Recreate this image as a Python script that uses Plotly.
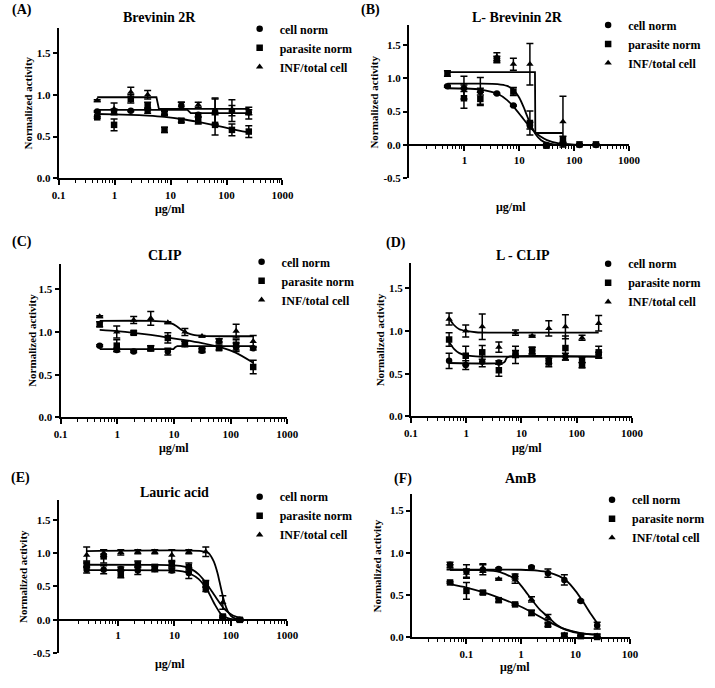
import plotly.graph_objects as go

FONT = "Liberation Serif, Times New Roman, serif"
W, H = 715, 688

# concentrations (ug/ml)
conc_pep = [0.49, 0.98, 1.95, 3.9, 7.8, 15.6, 31.25, 62.5, 125, 250]
conc_lauric = [0.28, 0.56, 1.125, 2.25, 4.5, 9, 18, 36, 72, 144]
conc_amb = [0.05, 0.1, 0.2, 0.39, 0.78, 1.56, 3.125, 6.25, 12.5, 25]

series_names = ["cell norm", "parasite norm", "INF/total cell"]
panel_titles = ["Brevinin 2R", "L- Brevinin 2R", "CLIP", "L - CLIP", "Lauric acid", "AmB"]
panel_labels = ["(A)", "(B)", "(C)", "(D)", "(E)", "(F)"]

# (A) Brevinin 2R
cell_a = [0.80, 0.80, 0.81, 0.81, 0.78, 0.87, 0.76, 0.80, 0.81, 0.79]
cell_a_err = [0.01, 0.03, 0.01, 0.03, 0.03, 0.04, 0.02, 0.15, 0.06, 0.03]
para_a = [0.73, 0.64, 0.95, 0.87, 0.58, 0.69, 0.69, 0.64, 0.58, 0.56]
para_a_err = [0.01, 0.07, 0.05, 0.04, 0.03, 0.02, 0.04, 0.12, 0.07, 0.07]
inf_a = [0.93, 0.83, 1.03, 1.00, 0.78, 0.87, 0.88, 0.80, 0.81, 0.78]
inf_a_err = [0.01, 0.07, 0.06, 0.05, 0.02, 0.04, 0.03, 0.16, 0.13, 0.07]
fit_a_cell_x = [0.49, 20, 23, 250]
fit_a_cell_y = [0.82, 0.82, 0.78, 0.78]
fit_a_para_x = conc_pep
fit_a_para_y = [0.77, 0.765, 0.76, 0.75, 0.735, 0.71, 0.675, 0.635, 0.59, 0.55]
fit_a_inf_x = [0.49, 5.6, 6.2, 250]
fit_a_inf_y = [0.97, 0.97, 0.83, 0.83]

# (B) L- Brevinin 2R
cell_b = [0.88, 0.85, 0.80, 0.77, 0.59, 0.29, 0.00, 0.02, 0.00, 0.00]
cell_b_err = [0.01, 0.05, 0.05, 0.01, 0.01, 0.05, 0.02, 0.02, 0.01, 0.01]
para_b = [1.07, 0.70, 0.69, 1.28, 0.80, 0.33, -0.01, 0.08, 0.01, 0.01]
para_b_err = [0.04, 0.15, 0.10, 0.05, 0.06, 0.18, 0.02, 0.05, 0.01, 0.01]
inf_b_conc = [0.49, 0.98, 1.95, 3.9, 7.8, 15.6, 31.25, 62.5]
inf_b = [0.88, 0.86, 0.81, 1.32, 1.21, 1.21, 0.00, 0.35]
inf_b_err = [0.01, 0.17, 0.20, 0.06, 0.09, 0.31, 0.01, 0.38]
fit_b_cell_x = [0.49, 1, 2, 4, 6, 8, 11, 14, 18, 24, 32, 50, 100, 250]
fit_b_cell_y = [0.85, 0.846, 0.83, 0.767, 0.673, 0.568, 0.425, 0.315, 0.215, 0.13, 0.074, 0.029, 0.007, 0.001]
fit_b_para_x = [0.49, 2, 4, 6, 8, 10, 12, 14, 16, 20, 25, 32, 50, 100, 250]
fit_b_para_y = [0.92, 0.92, 0.913, 0.885, 0.819, 0.707, 0.566, 0.427, 0.309, 0.158, 0.072, 0.028, 0.005, 0.0, 0.0]
fit_b_inf_x = [0.49, 19.3, 19.6, 62.5]
fit_b_inf_y = [1.09, 1.09, 0.18, 0.18]

# (C) CLIP
cell_c = [0.84, 0.79, 0.77, 0.81, 0.77, 0.86, 0.78, 0.89, 0.82, 0.81]
cell_c_err = [0.01, 0.02, 0.01, 0.03, 0.04, 0.03, 0.02, 0.03, 0.05, 0.02]
para_c = [1.09, 0.84, 0.99, 0.81, 0.93, 0.86, 0.79, 0.81, 0.85, 0.59]
para_c_err = [0.03, 0.07, 0.02, 0.03, 0.06, 0.03, 0.02, 0.02, 0.06, 0.08]
inf_c = [1.18, 1.00, 1.14, 1.16, 1.11, 1.00, 0.95, 0.90, 1.01, 0.89]
inf_c_err = [0.01, 0.07, 0.04, 0.08, 0.01, 0.04, 0.01, 0.02, 0.08, 0.07]
fit_c_cell_x = [0.49, 9.8, 10.5, 11.5, 250]
fit_c_cell_y = [0.80, 0.80, 0.82, 0.835, 0.835]
fit_c_para_x = conc_pep
fit_c_para_y = [1.025, 1.01, 0.99, 0.965, 0.935, 0.905, 0.87, 0.825, 0.755, 0.64]
fit_c_inf_x = [0.49, 4, 7, 9, 11, 14, 17, 22, 32, 64, 250]
fit_c_inf_y = [1.13, 1.13, 1.12, 1.10, 1.07, 1.02, 0.99, 0.965, 0.955, 0.95, 0.95]

# (D) L - CLIP
cell_d = [0.65, 0.60, 0.64, 0.63, 0.72, 0.77, 0.66, 0.70, 0.66, 0.72]
cell_d_err = [0.09, 0.05, 0.06, 0.02, 0.10, 0.04, 0.04, 0.04, 0.03, 0.03]
para_d = [0.90, 0.71, 0.75, 0.54, 0.73, 0.77, 0.63, 0.80, 0.60, 0.75]
para_d_err = [0.08, 0.11, 0.08, 0.07, 0.04, 0.04, 0.05, 0.14, 0.03, 0.07]
inf_d = [1.14, 1.00, 1.05, 0.81, 0.98, 0.94, 1.03, 1.05, 0.92, 1.09]
inf_d_err = [0.07, 0.07, 0.15, 0.06, 0.03, 0.01, 0.09, 0.14, 0.03, 0.09]
fit_d_cell_x = [0.49, 4.6, 5.0, 5.4, 6.0, 250]
fit_d_cell_y = [0.625, 0.625, 0.64, 0.685, 0.70, 0.70]
fit_d_para_x = [0.49, 0.6, 0.75, 1.0, 1.5, 2.5, 250]
fit_d_para_y = [0.87, 0.79, 0.74, 0.715, 0.703, 0.70, 0.70]
fit_d_inf_x = [0.49, 0.6, 0.75, 1.0, 1.5, 2.5, 250]
fit_d_inf_y = [1.15, 1.07, 1.02, 1.0, 0.985, 0.98, 0.98]

# (E) Lauric acid
cell_e = [0.75, 0.75, 0.76, 0.74, 0.76, 0.74, 0.70, 0.455, 0.04, 0.0]
cell_e_err = [0.05, 0.06, 0.03, 0.06, 0.04, 0.03, 0.08, 0.03, 0.01, 0.02]
para_e = [0.83, 0.95, 0.69, 0.83, 0.79, 0.83, 0.79, 0.54, 0.05, 0.0]
para_e_err = [0.05, 0.10, 0.06, 0.05, 0.04, 0.04, 0.06, 0.05, 0.02, 0.02]
inf_e = [0.97, 1.00, 1.01, 1.02, 1.02, 0.97, 1.02, 1.02, 0.26, 0.0]
inf_e_err = [0.12, 0.05, 0.04, 0.03, 0.03, 0.08, 0.03, 0.07, 0.10, 0.02]
fit_e_cell_x = [0.28, 10, 14, 19, 27, 38, 52, 67, 88, 114, 144]
fit_e_cell_y = [0.745, 0.74, 0.725, 0.69, 0.61, 0.45, 0.23, 0.085, 0.025, 0.005, 0.0]
fit_e_para_x = [0.28, 5, 10, 15, 20, 27, 38, 52, 77, 107, 144]
fit_e_para_y = [0.825, 0.823, 0.815, 0.795, 0.76, 0.68, 0.53, 0.36, 0.16, 0.07, 0.03]
fit_e_inf_x = [0.28, 30, 40, 50, 58, 63, 70, 77, 88, 100, 115, 130, 144]
fit_e_inf_y = [1.03, 1.03, 1.0, 0.87, 0.70, 0.57, 0.40, 0.26, 0.13, 0.06, 0.026, 0.012, 0.006]

# (F) AmB
cell_f = [0.86, 0.78, 0.80, 0.81, 0.72, 0.83, 0.76, 0.68, 0.43, 0.14]
cell_f_err = [0.03, 0.08, 0.06, 0.01, 0.03, 0.01, 0.05, 0.06, 0.01, 0.04]
para_f = [0.65, 0.55, 0.53, 0.44, 0.39, 0.29, 0.15, 0.02, 0.015, 0.005]
para_f_err = [0.01, 0.10, 0.02, 0.02, 0.01, 0.03, 0.02, 0.02, 0.01, 0.01]
inf_f = [0.83, 0.76, 0.82, 0.69, 0.68, 0.45, 0.24, 0.03, 0.015, 0.02]
inf_f_err = [0.03, 0.05, 0.05, 0.01, 0.04, 0.03, 0.03, 0.02, 0.01, 0.02]
fit_f_cell_x = [0.05, 1, 2, 3.2, 5, 6.7, 10, 13.5, 19, 25]
fit_f_cell_y = [0.80, 0.80, 0.79, 0.77, 0.725, 0.675, 0.55, 0.43, 0.28, 0.17]
fit_f_para_x = conc_amb
fit_f_para_y = [0.63, 0.59, 0.535, 0.47, 0.395, 0.30, 0.19, 0.10, 0.05, 0.03]
fit_f_inf_x = [0.05, 0.2, 0.4, 0.78, 1.1, 1.56, 2.2, 3.2, 4.5, 6.7, 13.5, 25]
fit_f_inf_y = [0.80, 0.795, 0.775, 0.69, 0.58, 0.45, 0.33, 0.235, 0.15, 0.09, 0.045, 0.035]

panels = [
    dict(concs=[conc_pep, conc_pep, conc_pep], means=[cell_a, para_a, inf_a],
         errs=[cell_a_err, para_a_err, inf_a_err],
         fits=[(fit_a_cell_x, fit_a_cell_y, "linear"), (fit_a_para_x, fit_a_para_y, "spline"),
               (fit_a_inf_x, fit_a_inf_y, "linear")]),
    dict(concs=[conc_pep, conc_pep, inf_b_conc], means=[cell_b, para_b, inf_b],
         errs=[cell_b_err, para_b_err, inf_b_err],
         fits=[(fit_b_cell_x, fit_b_cell_y, "spline"), (fit_b_para_x, fit_b_para_y, "spline"),
               (fit_b_inf_x, fit_b_inf_y, "linear")]),
    dict(concs=[conc_pep, conc_pep, conc_pep], means=[cell_c, para_c, inf_c],
         errs=[cell_c_err, para_c_err, inf_c_err],
         fits=[(fit_c_cell_x, fit_c_cell_y, "linear"), (fit_c_para_x, fit_c_para_y, "spline"),
               (fit_c_inf_x, fit_c_inf_y, "spline")]),
    dict(concs=[conc_pep, conc_pep, conc_pep], means=[cell_d, para_d, inf_d],
         errs=[cell_d_err, para_d_err, inf_d_err],
         fits=[(fit_d_cell_x, fit_d_cell_y, "spline"), (fit_d_para_x, fit_d_para_y, "spline"),
               (fit_d_inf_x, fit_d_inf_y, "spline")]),
    dict(concs=[conc_lauric] * 3, means=[cell_e, para_e, inf_e],
         errs=[cell_e_err, para_e_err, inf_e_err],
         fits=[(fit_e_cell_x, fit_e_cell_y, "spline"), (fit_e_para_x, fit_e_para_y, "spline"),
               (fit_e_inf_x, fit_e_inf_y, "spline")]),
    dict(concs=[conc_amb] * 3, means=[cell_f, para_f, inf_f],
         errs=[cell_f_err, para_f_err, inf_f_err],
         fits=[(fit_f_cell_x, fit_f_cell_y, "spline"), (fit_f_para_x, fit_f_para_y, "spline"),
               (fit_f_inf_x, fit_f_inf_y, "spline")]),
]

# pixel geometry of each panel: x left/right, y top/bottom, axis ranges
geometry = [
    dict(x=(53, 283), y=(28, 180), xr=[-1, 3], yr=[0, 1.8], xt=[0.1, 1, 10, 100, 1000], zero=None,
         title=(157, 18), lab=(3, 10), leg=(239, 14.5), xtitle=(167, 211), ytitle=22),
    dict(x=(413, 639), y=(25, 180), xr=[-1.01, 3], yr=[-0.5, 1.8], xt=[1, 10, 100, 1000], zero=146,
         title=(524, 18), lab=(362, 10), leg=(597, 10.5), xtitle=(518, 209), ytitle=377),
    dict(x=(55, 288), y=(266, 421), xr=[-1, 3], yr=[0, 1.8], xt=[0.1, 1, 10, 100, 1000], zero=None,
         title=(162, 258), lab=(3, 244), leg=(241, 249.5), xtitle=(172, 452), ytitle=25),
    dict(x=(415, 642), y=(265, 420), xr=[-1, 3], yr=[0, 1.8], xt=[0.1, 1, 10, 100, 1000], zero=None,
         title=(530, 258), lab=(387, 245), leg=(597, 251.5), xtitle=(534, 452), ytitle=383),
    dict(x=(53, 288), y=(504, 659), xr=[-1.05, 3], yr=[-0.5, 1.8], xt=[1, 10, 100, 1000], zero=625.7,
         title=(172, 497), lab=(2, 482), leg=(239, 486.5), xtitle=(167, 670), ytitle=17),
    dict(x=(416, 640), y=(498, 643), xr=[-2, 2], yr=[0, 1.7], xt=[0.1, 1, 10, 100], zero=None,
         title=(528, 483), lab=(395, 483), leg=(601, 489.5), xtitle=(522, 673), ytitle=380),
]

symbols = ["circle", "square", "triangle-up"]
tick_font = dict(family=FONT, size=11, color="black", weight="bold")
minor_vals = [m * 10 ** e for e in range(-2, 4) for m in range(2, 10)]

fig = go.Figure()
layout = dict(
    width=W, height=H, margin=dict(l=0, r=0, t=0, b=0),
    plot_bgcolor="white", paper_bgcolor="white", annotations=[],
)

for i, (p, g) in enumerate(zip(panels, geometry)):
    n = i + 1
    sfx = "" if n == 1 else str(n)
    xa, ya, leg = "x" + sfx, "y" + sfx, "legend" + sfx

    for fx, fy, shape in p["fits"]:
        fig.add_trace(go.Scatter(
            x=fx, y=fy, mode="lines", xaxis=xa, yaxis=ya, showlegend=False,
            line=dict(color="black", width=1.8, shape=shape, smoothing=0.6),
            hoverinfo="skip", cliponaxis=False,
        ))
    for name, sym, c, m, e in zip(series_names, symbols, p["concs"], p["means"], p["errs"]):
        fig.add_trace(go.Scatter(
            x=c, y=m, mode="markers", name=name, xaxis=xa, yaxis=ya, legend=leg,
            marker=dict(symbol=sym, size=6.5, color="black"),
            error_y=dict(type="data", array=e, color="black", thickness=1.5, width=3.5),
            cliponaxis=False,
        ))

    xdom = [g["x"][0] / W, g["x"][1] / W]
    ydom = [1 - g["y"][1] / H, 1 - g["y"][0] / H]
    xaxis = dict(
        domain=xdom, type="log", range=g["xr"], anchor=ya,
        tickmode="array", tickvals=g["xt"], ticktext=[f"{v:g}" for v in g["xt"]],
        ticks="outside", ticklen=5, tickwidth=1.5, tickcolor="black",
        minor=dict(tickvals=minor_vals, ticks="outside", ticklen=3, tickwidth=1, tickcolor="black"),
        showline=True, linewidth=2, linecolor="black", showgrid=False, zeroline=False,
        tickfont=tick_font,
    )
    if g["zero"] is not None:
        xaxis.update(anchor="free", position=1 - g["zero"] / H)
    yvals = [v / 2 for v in range(int(g["yr"][0] * 2), 4)]
    yaxis = dict(
        domain=ydom, range=g["yr"], anchor=xa,
        tickmode="array", tickvals=yvals, ticktext=[f"{v:.1f}" for v in yvals],
        ticks="outside", ticklen=4, tickwidth=1.5, tickcolor="black",
        showline=True, linewidth=2, linecolor="black", showgrid=False, zeroline=False,
        tickfont=tick_font,
    )
    layout["xaxis" + sfx] = xaxis
    layout["yaxis" + sfx] = yaxis
    layout[leg] = dict(
        x=g["leg"][0] / W, y=1 - g["leg"][1] / H, xanchor="left", yanchor="top",
        bgcolor="rgba(0,0,0,0)", borderwidth=0, itemwidth=30, tracegroupgap=0,
        font=dict(family=FONT, size=12, color="black", weight="bold"),
    )

    ann = layout["annotations"]
    ann.append(dict(text=panel_titles[i], x=g["title"][0] / W, y=1 - g["title"][1] / H,
                    xref="paper", yref="paper", showarrow=False, xanchor="center", yanchor="middle",
                    font=dict(family=FONT, size=14, color="black", weight="bold")))
    ann.append(dict(text=panel_labels[i], x=g["lab"][0] / W, y=1 - g["lab"][1] / H,
                    xref="paper", yref="paper", showarrow=False, xanchor="left", yanchor="middle",
                    font=dict(family=FONT, size=14, color="black", weight="bold")))
    ann.append(dict(text="μg/ml", x=g["xtitle"][0] / W, y=1 - g["xtitle"][1] / H,
                    xref="paper", yref="paper", showarrow=False, xanchor="center", yanchor="middle",
                    font=dict(family=FONT, size=12, color="black", weight="bold")))
    ann.append(dict(text="Normalized activity", x=g["ytitle"] / W,
                    y=1 - (g["y"][0] + g["y"][1]) / 2 / H,
                    xref="paper", yref="paper", showarrow=False, textangle=-90,
                    xanchor="center", yanchor="middle",
                    font=dict(family=FONT, size=11, color="black", weight="bold")))

fig.update_layout(**layout)
# the page body has a default 8px margin; remove it so the figure fills the window
fig.write_html(
    "out.html",
    config={"displayModeBar": False},
    post_script="document.body.style.margin='0';",
)
